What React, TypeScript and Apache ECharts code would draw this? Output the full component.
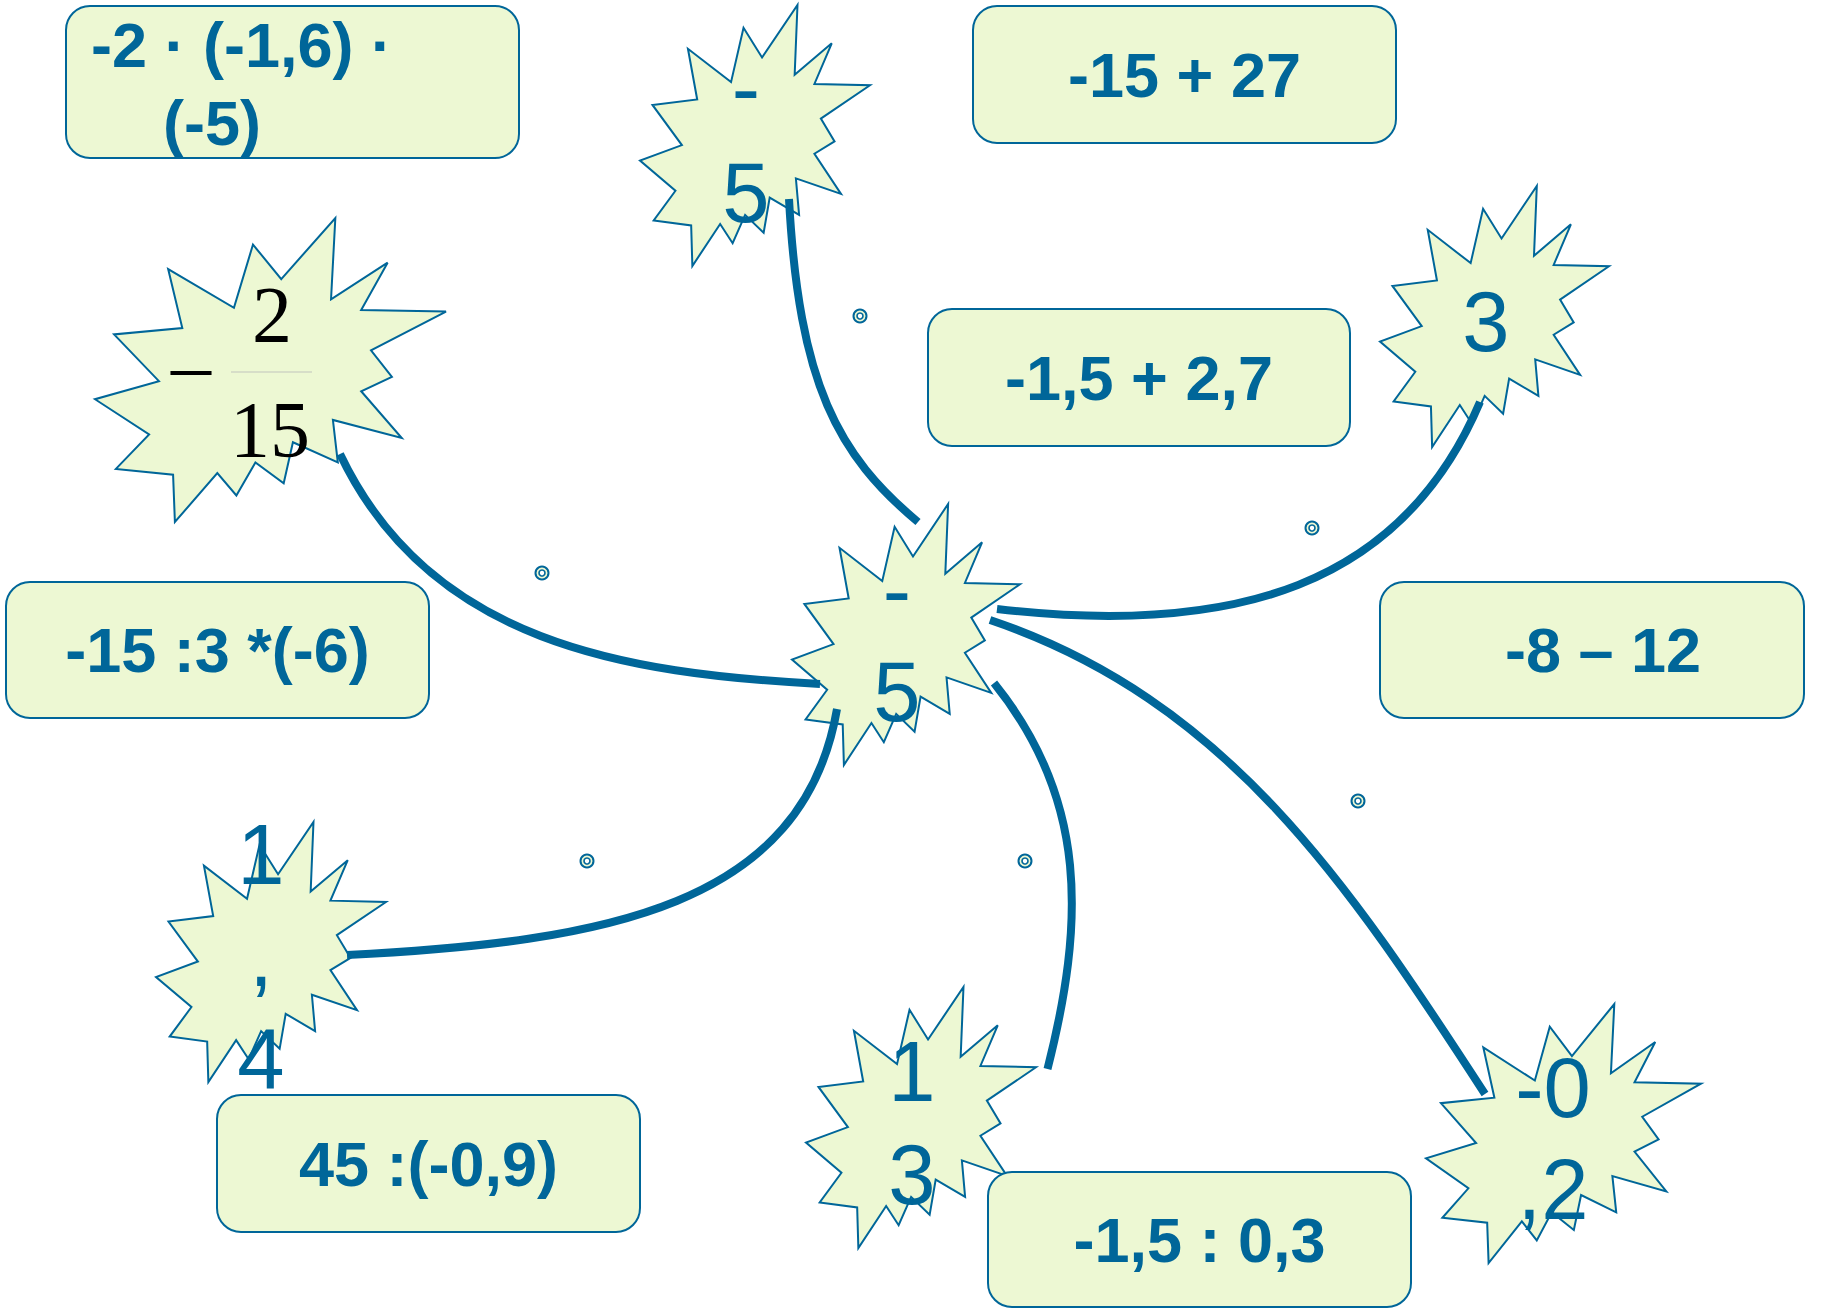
import React, { useEffect, useRef } from "react";
import * as echarts from "echarts";

// ---- content ----
const boxLabels: string[][] = [
  ["-2 · (-1,6) ·", "(-5)"],
  ["-15 + 27"],
  ["-1,5 + 2,7"],
  ["-15 :3 *(-6)"],
  ["-8 – 12"],
  ["45 :(-0,9)"],
  ["-1,5 : 0,3"],
];
// each star's label, split into the lines it wraps into
const starLines: string[][] = [
  ["-", "5"],
  [],
  ["3"],
  ["-", "5"],
  ["1", ",", "4"],
  ["1", "3"],
  ["-0", ",2"],
];
const fractionParts = { sign: "–", numerator: "2", denominator: "15" };

// ---- layout ----
const boxRects = [
  [66, 6, 453, 152],
  [973, 6, 423, 137],
  [928, 309, 422, 137],
  [6, 582, 423, 136],
  [1380, 582, 424, 136],
  [217, 1095, 423, 137],
  [988, 1172, 423, 135],
];
// horizontal text shift inside each box
const boxTextShift = [0, 0, 0, 0, 11, 0, 0];
// first box: left aligned lines [x, yMiddle]
const box0Lines = [
  [91, 45],
  [163, 123],
];
const starRects = [
  [640, 5, 230, 261],
  [95, 218, 351, 304],
  [1380, 186, 229, 261],
  [792, 504, 228, 261],
  [156, 822, 230, 260],
  [806, 987, 230, 261],
  [1426, 1004, 275, 259],
];
// per star: x centre and the middle y of each line
const starTextX = [746, 0, 1486, 897, 261, 912, 1553];
const starTextY: number[][] = [
  [87, 192],
  [],
  [321],
  [589, 691],
  [854, 956, 1058],
  [1071, 1174],
  [1087, 1189],
];
const curves = [
  // x1,y1,cpx1,cpy1,cpx2,cpy2,x2,y2
  [340, 454, 430, 643, 625, 673.5, 820, 684],
  [789, 199, 799, 385, 838, 455, 918, 522],
  [1480, 402, 1402, 586, 1234.6, 636.6, 997, 609],
  [990, 620, 1227, 700, 1349, 884.5, 1485, 1094],
  [837, 709, 803, 906, 607, 942, 347, 955],
  [994, 683, 1088.5, 800, 1084.4, 923.5, 1047.5, 1069],
];
const dots = [
  [860, 316],
  [542, 573],
  [1312, 528],
  [587, 861],
  [1025, 861],
  [1358, 801],
];
// irregular seal (explosion 2) outline in a 21600 unit square
const sealPts = [
  [11462, 4342], [14790, 0], [14525, 5777], [18007, 3172], [16380, 6532],
  [21600, 6645], [16985, 9402], [18270, 11290], [16380, 12310], [18877, 15632],
  [14640, 14350], [14942, 17370], [12180, 15935], [11612, 18842], [9872, 17370],
  [8700, 19712], [7527, 18125], [4917, 21600], [4805, 18240], [1285, 17825],
  [3330, 15370], [0, 12877], [3935, 11592], [1172, 8270], [5372, 7817],
  [4502, 3625], [8550, 6382], [9722, 1887],
];

const BLUE = "#006699";
const FILL = "#EDF8D3";
const SANS = "Liberation Sans, Arial, sans-serif";
const SERIF = "Liberation Serif, Times New Roman, serif";

function buildGraphics() {
  const els: any[] = [];
  starRects.forEach(([x, y, w, h]) => {
    els.push({
      type: "polygon",
      z: 10,
      shape: { points: sealPts.map(([px, py]) => [x + (px / 21600) * w, y + (py / 21600) * h]) },
      style: { fill: FILL, stroke: BLUE, lineWidth: 2 },
    });
  });
  curves.forEach(([x1, y1, c1x, c1y, c2x, c2y, x2, y2]) => {
    els.push({
      type: "bezierCurve",
      z: 20,
      shape: { x1, y1, cpx1: c1x, cpy1: c1y, cpx2: c2x, cpy2: c2y, x2, y2 },
      style: { stroke: BLUE, lineWidth: 8, fill: null },
    });
  });
  starLines.forEach((lines, i) => {
    lines.forEach((t, k) => {
      els.push({
        type: "text",
        z: 30,
        x: starTextX[i],
        y: starTextY[i][k],
        style: {
          text: t,
          fill: BLUE,
          fontFamily: SANS,
          fontSize: 85,
          align: "center",
          verticalAlign: "middle",
        },
      });
    });
  });
  // fraction star
  els.push({
    type: "text", z: 30, x: 191, y: 365,
    style: { text: fractionParts.sign, fill: "#000", fontFamily: SERIF, fontSize: 80, align: "center", verticalAlign: "middle" },
  });
  els.push({
    type: "text", z: 30, x: 272, y: 315,
    style: { text: fractionParts.numerator, fill: "#000", fontFamily: SERIF, fontSize: 80, align: "center", verticalAlign: "middle" },
  });
  els.push({
    type: "text", z: 30, x: 270, y: 430,
    style: { text: fractionParts.denominator, fill: "#000", fontFamily: SERIF, fontSize: 80, align: "center", verticalAlign: "middle" },
  });
  els.push({
    type: "line", z: 29,
    shape: { x1: 231, y1: 372, x2: 312, y2: 372 },
    style: { stroke: "#cfd6c4", lineWidth: 1.5 },
  });
  // boxes
  boxRects.forEach(([x, y, w, h], i) => {
    els.push({
      type: "rect",
      z: 40,
      shape: { x, y, width: w, height: h, r: 24 },
      style: { fill: FILL, stroke: BLUE, lineWidth: 2 },
    });
    const lines = boxLabels[i];
    const textStyle = {
      fill: BLUE,
      fontFamily: SANS,
      fontWeight: "bold",
      fontSize: 63,
      verticalAlign: "middle",
    };
    if (i === 0) {
      lines.forEach((ln, k) => {
        els.push({
          type: "text", z: 41, x: box0Lines[k][0], y: box0Lines[k][1],
          style: { ...textStyle, text: ln, align: "left" },
        });
      });
    } else {
      els.push({
        type: "text", z: 41, x: x + w / 2 + boxTextShift[i], y: y + h / 2,
        style: { ...textStyle, text: lines.join("\n"), align: "center" },
      });
    }
  });
  // small ring markers
  dots.forEach(([cx, cy]) => {
    els.push({
      type: "circle", z: 50, shape: { cx, cy, r: 6.5 },
      style: { fill: FILL, stroke: BLUE, lineWidth: 2 },
    });
    els.push({
      type: "circle", z: 51, shape: { cx, cy, r: 3 },
      style: { fill: "#ffffff", stroke: BLUE, lineWidth: 1.6 },
    });
  });
  return els;
}

export default function App() {
  const ref = useRef<HTMLDivElement>(null);
  useEffect(() => {
    document.body.style.margin = "0";
    const chart = echarts.init(ref.current!, null, { renderer: "svg" });
    chart.setOption({
      animation: false,
      backgroundColor: "#ffffff",
      graphic: { elements: buildGraphics() },
    });
    return () => chart.dispose();
  }, []);
  return <div ref={ref} style={{ width: 1825, height: 1312 }} />;
}
